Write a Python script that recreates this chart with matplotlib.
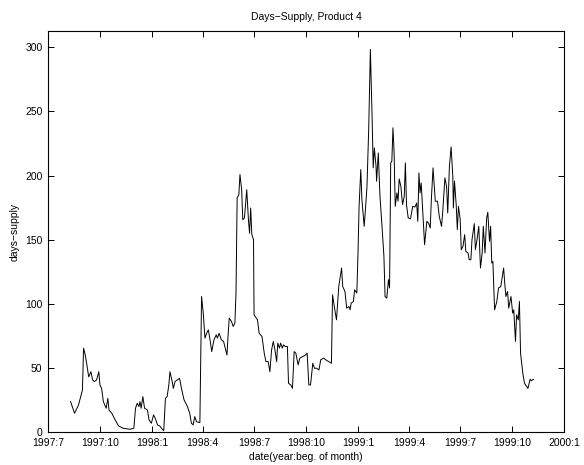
import numpy as np
import matplotlib
matplotlib.use("Agg")
import matplotlib.pyplot as plt
import matplotlib.dates as mdates
from matplotlib.ticker import FuncFormatter

# days since 1997-07-01 and days-supply
days = [40, 47, 54, 58, 61, 63, 66, 69, 72, 76, 79, 82, 86, 90, 92, 95, 98, 103, 106, 108,
        113, 119, 125, 133, 145, 152, 155, 158, 161, 163, 165, 168, 171, 176, 179, 183, 187, 190, 194, 198,
        201, 205, 208, 211, 214, 216, 220, 222, 225, 229, 233, 237, 241, 247, 251, 254, 257, 260, 263, 269,
        272, 275, 278, 281, 284, 287, 290, 294, 298, 300, 303, 307, 311, 314, 317, 319, 321, 325, 328, 331,
        333, 335, 338, 340, 343, 345, 348, 352, 355, 357, 359, 361, 364, 365, 371, 374, 379, 383, 386, 390,
        393, 396, 399, 402, 405, 407, 410, 412, 415, 417, 420, 424, 426, 430, 433, 436, 439, 443, 446, 451,
        456, 459, 462, 465, 469, 472, 476, 480, 483, 488, 492, 497, 502, 504, 508, 511, 515, 520, 522, 526,
        529, 533, 535, 537, 541, 543, 547, 549, 551, 554, 556, 560, 562, 565, 568, 571, 574, 576, 578, 581,
        582, 585, 588, 592, 595, 597, 600, 603, 605, 607, 609, 611, 613, 615, 618, 620, 622, 625, 628, 631,
        633, 635, 638, 642, 646, 650, 653, 655, 657, 659, 661, 664, 667, 671, 674, 677, 679, 682, 686, 690,
        693, 697, 699, 703, 706, 708, 711, 714, 717, 718, 720, 723, 725, 727, 730, 732, 735, 738, 740, 744,
        746, 749, 751, 755, 757, 759, 763, 766, 769, 771, 774, 777, 779, 782, 784, 786, 788, 791, 795, 798,
        802, 807, 809, 811, 814, 816, 820, 823, 825, 828, 830, 833, 835, 837, 841, 844, 850, 854, 856, 860]
supply = [23.7, 14.6, 21, 27.6, 32.8, 65.4, 60, 52, 43, 47, 40.6, 39.3, 40.6, 47, 36.7, 34, 23.7, 18.5, 26.3, 17.2,
          14.6, 9.4, 4.7, 2.9, 2.1, 2.9, 18.5, 22.4, 19.8, 23.7, 18.5, 27.6, 18.5, 17.2, 9.4, 6.8, 13.3, 10.7, 5.5, 4.7,
          2.9, 1, 26.3, 27.6, 36.7, 47, 39.3, 34, 39.3, 40.6, 41.9, 32.8, 25, 19.8, 14.6, 6.8, 5.5, 12, 8, 7.3,
          105.7, 92.7, 73.2, 77, 79.7, 71.9, 62.7, 71.9, 75.8, 73.2, 77, 71.9, 70.6, 65.4, 60, 75.8, 88.8, 86.2, 82.3, 84.9,
          108.4, 182.6, 185, 200.8, 189, 165.6, 167, 189, 165.6, 155, 174.7, 154, 150, 91.4, 87.5, 77, 74.5, 61.5, 54.9, 54.9,
          47, 64, 70.6, 64, 54.9, 69.3, 65.4, 69.3, 65.4, 68, 66.7, 66.7, 38, 36.7, 34, 62.7, 61.5, 52.3, 57.6, 58.8,
          60, 61.5, 36.7, 36.7, 53.6, 49.7, 49.7, 48.4, 56.3, 57.6, 56.3, 54.9, 53.6, 107, 95.3, 87.5, 113.5, 127.9, 113.5, 109.6,
          96.6, 97.9, 95.3, 100.5, 101.8, 110.9, 108.4, 138.3, 176, 204.7, 181.3, 160.4, 172.1, 191.6, 235.9, 298.4, 246.3, 206, 221.6, 207.3,
          195.6, 217.7, 183.8, 157.8, 137, 105.7, 104.4, 118.8, 112.3, 209.9, 211.2, 237.3, 217.7, 176, 186.5, 180, 197.4, 191.6, 177.3, 183.8,
          209.9, 177.3, 167, 166.2, 176, 175.5, 178.6, 164.3, 202.1, 186.5, 194.3, 170.8, 146.1, 164.3, 163, 159.1, 181.3, 206, 180, 180,
          168.2, 160.4, 170.8, 198.2, 191.6, 170.8, 207.3, 222.4, 199.5, 174.7, 195.6, 177.3, 157.8, 176, 166.2, 142.2, 144.8, 153.9, 140.9, 139.6,
          134.4, 134.4, 150, 162.5, 142.2, 147.4, 160.4, 127.9, 139.6, 160.4, 139.6, 167, 171.4, 148.7, 160.4, 131.8, 133, 95.3, 101.8, 112.3,
          113.5, 127.9, 116, 105.7, 109.6, 96.6, 105.7, 92.7, 95.3, 70.6, 91.4, 87.5, 101.8, 61.5, 45.8, 38, 34, 41.1, 40, 41.1]

dates = np.datetime64("1997-07-01") + np.array(days).astype("timedelta64[D]")

plt.rcParams["font.family"] = ["Liberation Sans", "DejaVu Sans"]
plt.rcParams["font.size"] = 7.5

fig = plt.figure(figsize=(5.84, 4.65), dpi=100)
ax = fig.add_axes([0.0822, 0.071, 0.8836, 0.8624])
ax.plot(dates, supply, color="black", linewidth=0.7)

ax.set_xlim(np.datetime64("1997-07-01"), np.datetime64("2000-01-01"))
ax.set_ylim(0, 312.8)
ax.set_yticks(np.arange(0, 301, 50))
ax.xaxis.set_major_locator(mdates.MonthLocator(bymonth=(1, 4, 7, 10)))
ax.xaxis.set_major_formatter(FuncFormatter(
    lambda v, pos: "%d:%d" % (mdates.num2date(v).year, mdates.num2date(v).month)))

ax.tick_params(direction="in", top=True, right=True, length=4, width=0.7, labelsize=7.5)
ax.tick_params(axis="x", pad=4.5)
ax.tick_params(axis="y", pad=4)
for s in ax.spines.values():
    s.set_linewidth(0.8)

ax.set_title("Days\u2212Supply, Product 4", fontsize=7.5, pad=8)
ax.set_xlabel("date(year:beg. of month)", fontsize=7.5, labelpad=3)
ax.set_ylabel("days\u2212supply", fontsize=7.5, labelpad=4)

fig.savefig("out.png", dpi=100)
